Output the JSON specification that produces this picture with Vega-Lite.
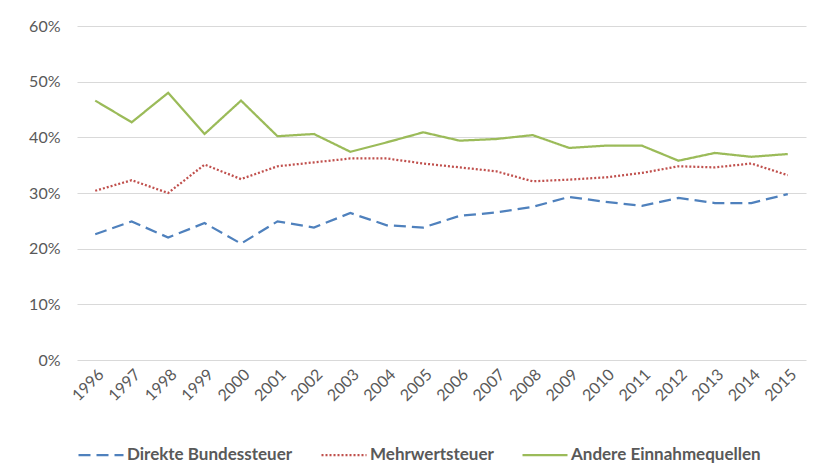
{
  "$schema": "https://vega.github.io/schema/vega-lite/v6.json",
  "autosize": {"type": "none"},
  "padding": {"left": 77, "top": 26, "right": 9, "bottom": 108},
  "width": 729,
  "height": 334,
  "background": "white",
  "config": {
    "view": {"stroke": null},
    "font": "Lato",
    "axis": {"labelFont": "Lato", "labelColor": "#595959", "labelFontSize": 16, "domain": false, "ticks": false, "gridColor": "#d9d9d9", "gridWidth": 1},
    "legend": {"title": null, "orient": "none", "legendX": 0, "legendY": 405, "direction": "horizontal",
        "symbolType": "stroke", "symbolSize": 2025, "symbolStrokeWidth": 2.25,
        "labelFont": "Lato", "labelFontSize": 17, "labelFontWeight": "bold", "labelColor": "#595959", "labelOffset": 2, "columnPadding": 24, "labelLimit": 0}
  },
  "data": {"values": [
    {"year": "1996", "series": "Direkte Bundessteuer", "v": 0.226},
    {"year": "1997", "series": "Direkte Bundessteuer", "v": 0.249},
    {"year": "1998", "series": "Direkte Bundessteuer", "v": 0.220},
    {"year": "1999", "series": "Direkte Bundessteuer", "v": 0.246},
    {"year": "2000", "series": "Direkte Bundessteuer", "v": 0.209},
    {"year": "2001", "series": "Direkte Bundessteuer", "v": 0.249},
    {"year": "2002", "series": "Direkte Bundessteuer", "v": 0.238},
    {"year": "2003", "series": "Direkte Bundessteuer", "v": 0.264},
    {"year": "2004", "series": "Direkte Bundessteuer", "v": 0.242},
    {"year": "2005", "series": "Direkte Bundessteuer", "v": 0.238},
    {"year": "2006", "series": "Direkte Bundessteuer", "v": 0.259},
    {"year": "2007", "series": "Direkte Bundessteuer", "v": 0.265},
    {"year": "2008", "series": "Direkte Bundessteuer", "v": 0.275},
    {"year": "2009", "series": "Direkte Bundessteuer", "v": 0.293},
    {"year": "2010", "series": "Direkte Bundessteuer", "v": 0.284},
    {"year": "2011", "series": "Direkte Bundessteuer", "v": 0.277},
    {"year": "2012", "series": "Direkte Bundessteuer", "v": 0.291},
    {"year": "2013", "series": "Direkte Bundessteuer", "v": 0.282},
    {"year": "2014", "series": "Direkte Bundessteuer", "v": 0.282},
    {"year": "2015", "series": "Direkte Bundessteuer", "v": 0.298},
    {"year": "1996", "series": "Mehrwertsteuer", "v": 0.304},
    {"year": "1997", "series": "Mehrwertsteuer", "v": 0.323},
    {"year": "1998", "series": "Mehrwertsteuer", "v": 0.300},
    {"year": "1999", "series": "Mehrwertsteuer", "v": 0.351},
    {"year": "2000", "series": "Mehrwertsteuer", "v": 0.325},
    {"year": "2001", "series": "Mehrwertsteuer", "v": 0.348},
    {"year": "2002", "series": "Mehrwertsteuer", "v": 0.355},
    {"year": "2003", "series": "Mehrwertsteuer", "v": 0.362},
    {"year": "2004", "series": "Mehrwertsteuer", "v": 0.362},
    {"year": "2005", "series": "Mehrwertsteuer", "v": 0.353},
    {"year": "2006", "series": "Mehrwertsteuer", "v": 0.346},
    {"year": "2007", "series": "Mehrwertsteuer", "v": 0.339},
    {"year": "2008", "series": "Mehrwertsteuer", "v": 0.321},
    {"year": "2009", "series": "Mehrwertsteuer", "v": 0.324},
    {"year": "2010", "series": "Mehrwertsteuer", "v": 0.328},
    {"year": "2011", "series": "Mehrwertsteuer", "v": 0.336},
    {"year": "2012", "series": "Mehrwertsteuer", "v": 0.348},
    {"year": "2013", "series": "Mehrwertsteuer", "v": 0.346},
    {"year": "2014", "series": "Mehrwertsteuer", "v": 0.353},
    {"year": "2015", "series": "Mehrwertsteuer", "v": 0.332},
    {"year": "1996", "series": "Andere Einnahmequellen", "v": 0.466},
    {"year": "1997", "series": "Andere Einnahmequellen", "v": 0.427},
    {"year": "1998", "series": "Andere Einnahmequellen", "v": 0.480},
    {"year": "1999", "series": "Andere Einnahmequellen", "v": 0.406},
    {"year": "2000", "series": "Andere Einnahmequellen", "v": 0.466},
    {"year": "2001", "series": "Andere Einnahmequellen", "v": 0.402},
    {"year": "2002", "series": "Andere Einnahmequellen", "v": 0.406},
    {"year": "2003", "series": "Andere Einnahmequellen", "v": 0.374},
    {"year": "2004", "series": "Andere Einnahmequellen", "v": 0.391},
    {"year": "2005", "series": "Andere Einnahmequellen", "v": 0.409},
    {"year": "2006", "series": "Andere Einnahmequellen", "v": 0.394},
    {"year": "2007", "series": "Andere Einnahmequellen", "v": 0.397},
    {"year": "2008", "series": "Andere Einnahmequellen", "v": 0.404},
    {"year": "2009", "series": "Andere Einnahmequellen", "v": 0.381},
    {"year": "2010", "series": "Andere Einnahmequellen", "v": 0.385},
    {"year": "2011", "series": "Andere Einnahmequellen", "v": 0.385},
    {"year": "2012", "series": "Andere Einnahmequellen", "v": 0.358},
    {"year": "2013", "series": "Andere Einnahmequellen", "v": 0.372},
    {"year": "2014", "series": "Andere Einnahmequellen", "v": 0.365},
    {"year": "2015", "series": "Andere Einnahmequellen", "v": 0.370}
  ]},
  "mark": {"type": "line", "strokeWidth": 2.25},
  "encoding": {
    "x": {"field": "year", "type": "ordinal", "title": null, "scale": {"type": "point", "padding": 0.5},
      "axis": {"labelAngle": -45, "labelPadding": 6, "grid": false}},
    "y": {"field": "v", "type": "quantitative", "title": null,
      "scale": {"domain": [0, 0.6], "nice": false},
      "axis": {"format": ".0%", "values": [0, 0.1, 0.2, 0.3, 0.4, 0.5, 0.6], "labelPadding": 17}},
    "color": {"field": "series", "type": "nominal",
      "scale": {"domain": ["Direkte Bundessteuer", "Mehrwertsteuer", "Andere Einnahmequellen"], "range": ["#4F81BD", "#C0504D", "#9BBB59"]}},
    "strokeDash": {"field": "series", "type": "nominal",
      "scale": {"domain": ["Direkte Bundessteuer", "Mehrwertsteuer", "Andere Einnahmequellen"], "range": [[12, 6], [2, 2], [1, 0]]}}
  }
}
